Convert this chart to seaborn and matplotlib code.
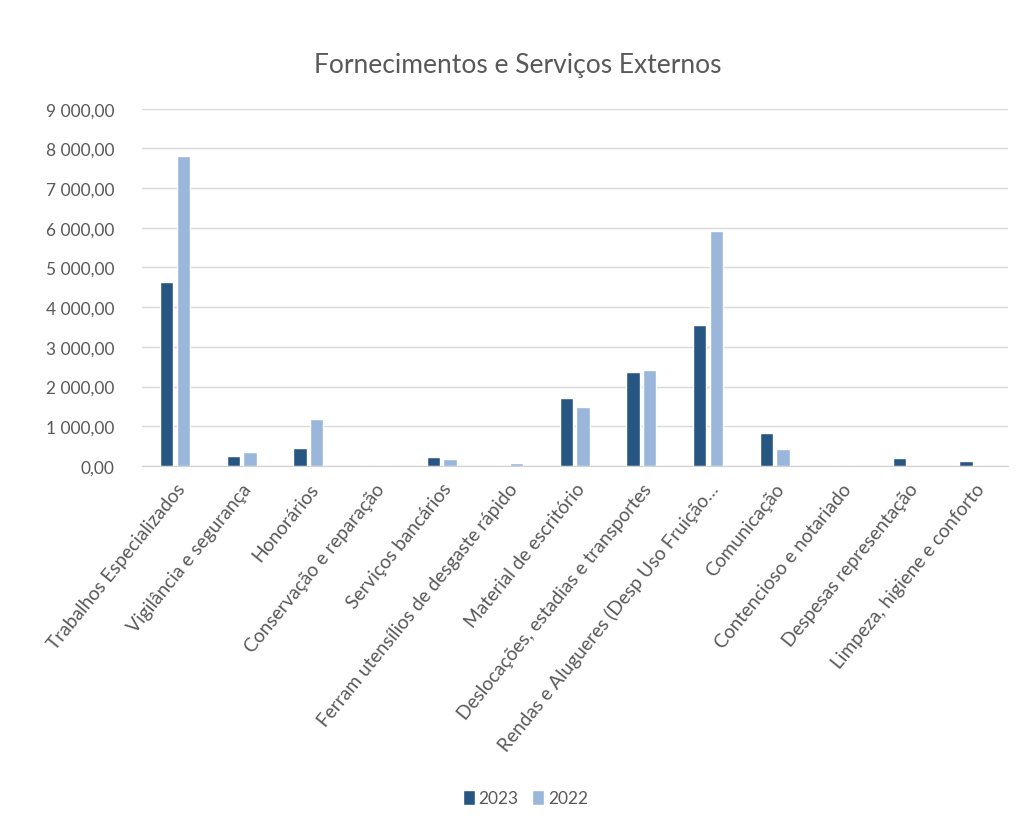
import matplotlib.pyplot as plt
import matplotlib.ticker as mticker
import numpy as np
import pandas as pd
import seaborn as sns

categorias = ['Trabalhos Especializados', 'Vigilância e segurança', 'Honorários',
              'Conservação e reparação', 'Serviços bancários',
              'Ferram utensílios de desgaste rápido', 'Material de escritório',
              'Deslocações, estadias e transportes',
              'Rendas e Alugueres (Desp Uso Fruição…', 'Comunicação',
              'Contencioso e notariado', 'Despesas representação',
              'Limpeza, higiene e conforto']
valores_2023 = [4640, 255, 450, 0, 240, 0, 1715, 2370, 3540, 820, 0, 210, 125]
valores_2022 = [7800, 356, 1190, 0, 170, 75, 1486, 2430, 5920, 436, 0, 0, 0]
anos = ['2023', '2022']

df = pd.DataFrame({
    'categoria': categorias * 2,
    'valor': valores_2023 + valores_2022,
    'ano': [anos[0]] * len(categorias) + [anos[1]] * len(categorias),
})

sns.set_style('white')
plt.rcParams['font.family'] = ['Lato', 'DejaVu Sans']
txt = '#595959'

fig = plt.figure(figsize=(10.2, 8.37), dpi=100)
ax = fig.add_axes([0.139, 0.442, 0.849, 0.427])

sns.barplot(data=df, x='categoria', y='valor', hue='ano', hue_order=anos,
            palette=['#285682', '#9ab6db'], saturation=1, width=0.5, gap=0.2,
            order=categorias, ax=ax)

ax.set_ylim(0, 9000)
ax.yaxis.set_major_locator(mticker.MultipleLocator(1000))
ax.yaxis.set_major_formatter(mticker.FuncFormatter(
    lambda v, p: f'{v:,.2f}'.replace(',', ' ').replace('.', ',')))
ax.grid(axis='y', color='#d9d9d9', linewidth=1)
ax.set_axisbelow(True)
for s in ['top', 'right', 'left']:
    ax.spines[s].set_visible(False)
ax.spines['bottom'].set_color('#d0d0d0')
ax.set_xlabel('')
ax.set_ylabel('')
ax.tick_params(axis='y', length=0, pad=20, labelsize=12.5, labelcolor=txt)
ax.tick_params(axis='x', length=0, pad=10, labelsize=13.8, labelcolor=txt)
plt.setp(ax.get_xticklabels(), rotation=51, ha='right', rotation_mode='anchor')

fig.suptitle('Fornecimentos e Serviços Externos', x=0.508, y=0.937,
             fontsize=19, color=txt)

handles, labels = ax.get_legend_handles_labels()
ax.get_legend().remove()
fig.legend(handles, labels, loc='center', bbox_to_anchor=(0.515, 0.045),
           ncol=2, frameon=False, fontsize=12.5, labelcolor=txt,
           handlelength=0.7, handleheight=0.9, handletextpad=0.2,
           columnspacing=0.8)

plt.savefig('out.png', dpi=100)
